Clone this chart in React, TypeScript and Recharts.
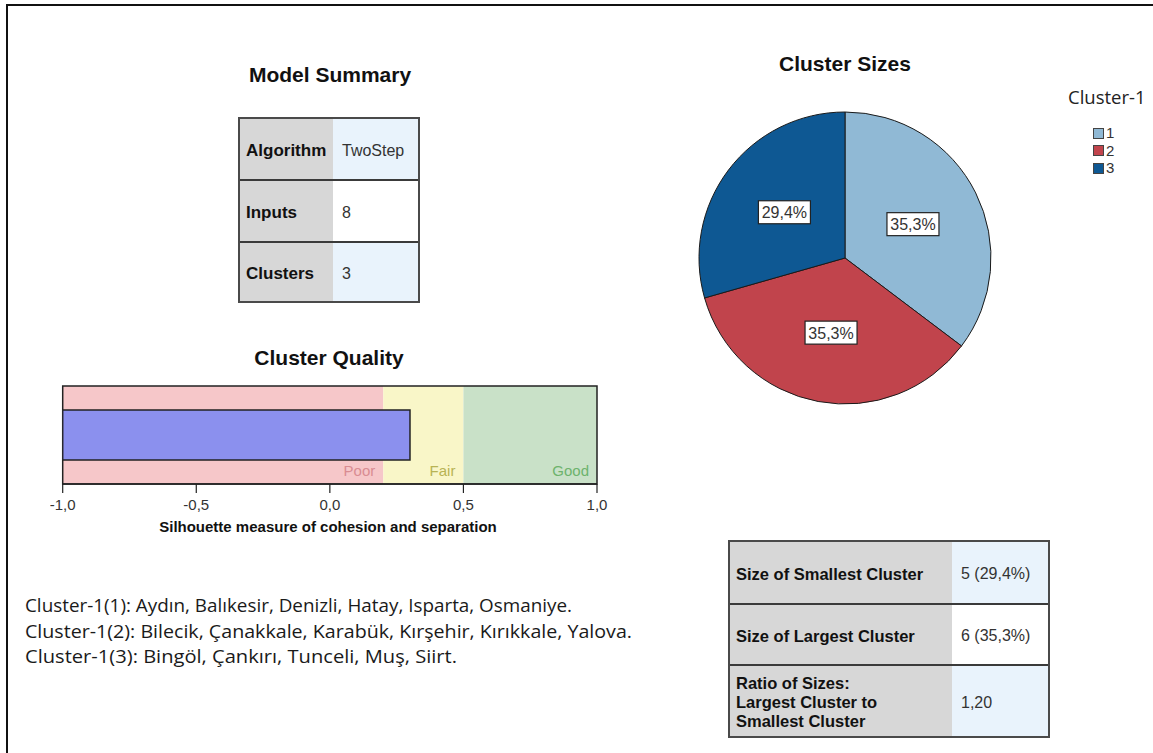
import React from 'react';
import {
  BarChart,
  Bar,
  XAxis,
  YAxis,
  ReferenceArea,
  PieChart,
  Pie,
  Cell,
  Legend,
} from 'recharts';

// ---------- data ----------
const clusterNames = ['1', '2', '3'];
const clusterCounts = [6, 6, 5];
const clusterColors = ['#90b9d5', '#c1444c', '#0e5893'];

const silhouetteMin = -1;
const silhouetteValue = 0.3;
const silhouetteTicks = [-1, -0.5, 0, 0.5, 1];

const bandNames = ['Poor', 'Fair', 'Good'];
const bandFrom = [-1, 0.2, 0.5];
const bandTo = [0.2, 0.5, 1];
const bandFills = ['#f6c7c9', '#f9f6c8', '#c9e1c8'];
const bandTextColors = ['#d98c92', '#b8b354', '#6db36d'];

const modelLabels = ['Algorithm', 'Inputs', 'Clusters'];
const modelValues = ['TwoStep', '8', '3'];

const sizeLabels = ['Size of Smallest Cluster', 'Size of Largest Cluster', 'Ratio of Sizes:\nLargest Cluster to\nSmallest Cluster'];
const sizeValues = ['5 (29,4%)', '6 (35,3%)', '1,20'];

const memberLines = [
  'Cluster-1(1): Aydın, Balıkesir, Denizli, Hatay, Isparta, Osmaniye.',
  'Cluster-1(2): Bilecik, Çanakkale, Karabük, Kırşehir, Kırıkkale, Yalova.',
  'Cluster-1(3): Bingöl, Çankırı, Tunceli, Muş, Siirt.',
];

const ARIAL = 'Arial, "Liberation Sans", sans-serif';
const CALIBRI = '"Open Sans", "Noto Sans", sans-serif';

const fmtComma = (v: number) => v.toFixed(1).replace('.', ',');

const barData = [{ name: 'Silhouette', range: [silhouetteMin, silhouetteValue] }];
const pieData = clusterNames.map((n, i) => ({ name: n, value: clusterCounts[i] }));

// ---------- table ----------
type TableProps = {
  left: number;
  top: number;
  width: number;
  height: number;
  labelWidth: number;
  rowHeights: number[];
  labels: string[];
  values: string[];
  labelSize: number;
  valueSize: number;
};

function InfoTable(p: TableProps) {
  return (
    <div
      style={{
        position: 'absolute',
        left: p.left,
        top: p.top,
        width: p.width,
        height: p.height,
        boxSizing: 'border-box',
        border: '2px solid #4a4a4a',
        fontFamily: ARIAL,
      }}
    >
      {p.labels.map((lab, i) => (
        <div
          key={i}
          style={{
            display: 'flex',
            height: p.rowHeights[i],
            boxSizing: 'border-box',
            borderTop: i > 0 ? '2px solid #3a3a3a' : 'none',
          }}
        >
          <div
            style={{
              width: p.labelWidth,
              background: '#d7d7d7',
              display: 'flex',
              alignItems: 'center',
              paddingLeft: 6,
              paddingTop: 3,
              boxSizing: 'border-box',
              fontWeight: 'bold',
              fontSize: p.labelSize,
              lineHeight: '19px',
              color: '#111',
              whiteSpace: 'pre-line',
            }}
          >
            {lab}
          </div>
          <div
            style={{
              flex: 1,
              background: i === 1 ? '#ffffff' : '#e9f3fc',
              display: 'flex',
              alignItems: 'center',
              paddingLeft: 9,
              paddingTop: 3,
              boxSizing: 'border-box',
              fontSize: p.valueSize,
              color: '#333',
            }}
          >
            {p.values[i]}
          </div>
        </div>
      ))}
    </div>
  );
}

// ---------- pie label ----------
const RAD = Math.PI / 180;
function PieLabel(props: any) {
  const { cx, cy, midAngle, outerRadius, percent } = props;
  const r = outerRadius * 0.52;
  const x = cx + r * Math.cos(-midAngle * RAD);
  const y = cy + r * Math.sin(-midAngle * RAD);
  const txt = (percent * 100).toFixed(1).replace('.', ',') + '%';
  return (
    <g>
      <rect x={x - 26} y={y - 11.5} width={52} height={23} fill="#fff" stroke="#222" strokeWidth={1.2} />
      <text x={x} y={y + 6} textAnchor="middle" fontFamily={ARIAL} fontSize={16} fill="#333">
        {txt}
      </text>
    </g>
  );
}

function PieLegend() {
  return (
    <div style={{ position: 'relative', width: 85, height: 130 }}>
      <div
        style={{
          position: 'absolute',
          left: 0,
          top: 0,
          fontFamily: CALIBRI,
          fontSize: 18.5,
          lineHeight: '22px',
          color: '#222',
          whiteSpace: 'nowrap',
        }}
      >
        Cluster-1
      </div>
      {clusterNames.map((n, i) => (
        <div key={n} style={{ position: 'absolute', left: 25, top: 41 + i * 17.5, height: 12, display: 'flex', alignItems: 'center' }}>
          <div
            style={{
              width: 11,
              height: 11,
              boxSizing: 'border-box',
              border: '1px solid #444',
              background: clusterColors[i],
            }}
          />
          <span style={{ marginLeft: 2, fontFamily: ARIAL, fontSize: 15, lineHeight: '12px', color: '#333' }}>{n}</span>
        </div>
      ))}
    </div>
  );
}

export default function App() {
  return (
    <div
      style={{
        position: 'absolute',
        left: 0,
        top: 0,
        width: 1153,
        height: 753,
        background: '#fff',
        overflow: 'hidden',
        fontFamily: ARIAL,
      }}
    >
      {/* outer frame */}
      <div
        style={{
          position: 'absolute',
          left: 6,
          top: 4,
          width: 1200,
          height: 800,
          borderTop: '2px solid #111',
          borderLeft: '2px solid #111',
        }}
      />

      {/* Model Summary */}
      <div style={{ position: 'absolute', left: 230, width: 200, top: 63, textAlign: 'center', fontWeight: 'bold', fontSize: 21, lineHeight: '24px', color: '#111' }}>
        Model Summary
      </div>
      <InfoTable
        left={238}
        top={117}
        width={182}
        height={186}
        labelWidth={93}
        rowHeights={[60, 62, 60]}
        labels={modelLabels}
        values={modelValues}
        labelSize={17}
        valueSize={16}
      />

      {/* Cluster Quality */}
      <div style={{ position: 'absolute', left: 229, width: 200, top: 346, textAlign: 'center', fontWeight: 'bold', fontSize: 21, lineHeight: '24px', color: '#111' }}>
        Cluster Quality
      </div>
      <div style={{ position: 'absolute', left: 50, top: 380 }}>
        <BarChart
          width={560}
          height={140}
          data={barData}
          layout="vertical"
          margin={{ top: 6, right: 13, left: 12.7, bottom: 0 }}
        >
          {bandNames.map((b, i) => (
            <ReferenceArea
              key={b}
              x1={bandFrom[i]}
              x2={bandTo[i]}
              fill={bandFills[i]}
              fillOpacity={1}
              stroke="none"
              label={{ value: b, position: 'insideBottomRight', offset: 8, fill: bandTextColors[i], fontSize: 15, fontFamily: ARIAL }}
            />
          ))}
          <XAxis
            type="number"
            domain={[-1, 1]}
            ticks={silhouetteTicks}
            tickFormatter={fmtComma}
            interval={0}
            allowDataOverflow
            height={36}
            tickSize={9}
            tickMargin={6}
            tick={{ fontSize: 15, fill: '#333', fontFamily: ARIAL }}
            axisLine={{ stroke: '#222', strokeWidth: 1.5 }}
            tickLine={{ stroke: '#222', strokeWidth: 1.2 }}
          />
          <YAxis type="category" dataKey="name" hide />
          <Bar dataKey="range" fill="#8b90ee" stroke="#222" strokeWidth={1.5} barSize={50} isAnimationActive={false} />
          <ReferenceArea x1={-1} x2={1} fill="none" stroke="#222" strokeWidth={1.5} />
        </BarChart>
      </div>
      <div style={{ position: 'absolute', left: 128, width: 400, top: 519, textAlign: 'center', fontWeight: 'bold', fontSize: 15, lineHeight: '16px', color: '#111' }}>
        Silhouette measure of cohesion and separation
      </div>

      {/* Cluster Sizes */}
      <div style={{ position: 'absolute', left: 745, width: 200, top: 52, textAlign: 'center', fontWeight: 'bold', fontSize: 21, lineHeight: '24px', color: '#111' }}>
        Cluster Sizes
      </div>
      <div style={{ position: 'absolute', left: 690, top: 40 }}>
        <PieChart width={463} height={400} margin={{ top: 0, right: 0, bottom: 0, left: 0 }}>
          <Pie
            data={pieData}
            dataKey="value"
            nameKey="name"
            cx={155}
            cy={218}
            outerRadius={146}
            startAngle={90}
            endAngle={-270}
            stroke="#1a1a1a"
            strokeWidth={1}
            label={PieLabel}
            labelLine={false}
            isAnimationActive={false}
          >
            {pieData.map((d, i) => (
              <Cell key={d.name} fill={clusterColors[i]} />
            ))}
          </Pie>
          <Legend
            layout="vertical"
            align="right"
            verticalAlign="middle"
            content={PieLegend}
            wrapperStyle={{ left: 378, top: 46, width: 85, height: 130, right: 'auto' }}
          />
        </PieChart>
      </div>

      {/* Size table */}
      <InfoTable
        left={728}
        top={540}
        width={322}
        height={198}
        labelWidth={222}
        rowHeights={[61, 61, 72]}
        labels={sizeLabels}
        values={sizeValues}
        labelSize={16.5}
        valueSize={16}
      />

      {/* member text */}
      <svg style={{ position: 'absolute', left: 0, top: 580 }} width={700} height={100}>
        {memberLines.map((t, i) => (
          <text
            key={i}
            x={25}
            y={32 + i * 25.5}
            fontFamily={CALIBRI}
            fontSize={18}
            fill="#1a1a1a"
            textLength={[547, 607, 432][i]}
            lengthAdjust="spacingAndGlyphs"
          >
            {t}
          </text>
        ))}
      </svg>
    </div>
  );
}
